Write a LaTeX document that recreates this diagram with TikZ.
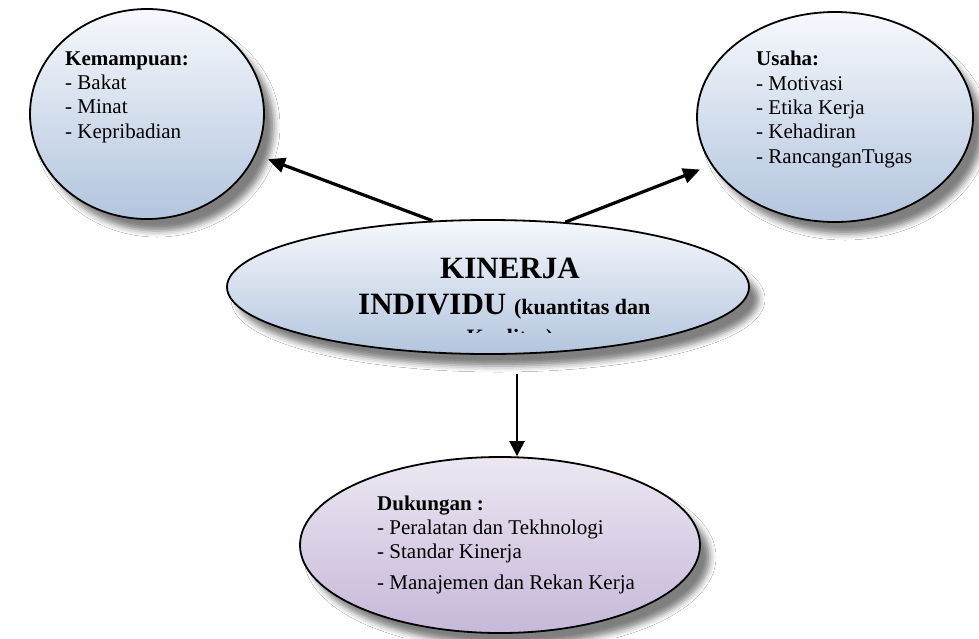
\documentclass[tikz,border=0pt]{standalone}
\usepackage{fontspec}
\setmainfont{Liberation Serif}
\usetikzlibrary{shapes.geometric,shadows,shadows.blur,arrows.meta}
\definecolor{bluetop}{HTML}{F6F8FC}
\definecolor{bluebot}{HTML}{B2C5DE}
\definecolor{purptop}{HTML}{ECE7F2}
\definecolor{purpbot}{HTML}{C6B8D9}
\begin{document}
\begin{tikzpicture}[x=1pt,y=-1pt,
  bubble/.style={ellipse, draw=black, line width=1.8pt, inner sep=0pt,
    top color=bluetop, bottom color=bluebot,
    blur shadow={shadow xshift=10pt, shadow yshift=-12pt, shadow blur radius=6pt, shadow opacity=50}},
  pbubble/.style={bubble, top color=purptop, bottom color=purpbot},
  txt/.style={anchor=base west, align=left, inner sep=0pt,
    font=\fontsize{21}{24.3}\selectfont},
  arr/.style={line width=3.2pt, -{Triangle[length=17pt,width=15pt]}},
  arrd/.style={line width=2.4pt, -{Triangle[length=15pt,width=15pt]}},
]
\fill[white] (0,0) rectangle (979,638);
\useasboundingbox (0,0) rectangle (979,638);

\node[bubble, minimum width=234pt, minimum height=210pt] (tl) at (147,114) {};
\node[bubble, minimum width=276pt, minimum height=210pt] (tr) at (835,117) {};
\node[bubble, minimum width=522pt, minimum height=134pt] (c) at (488,287) {};
\node[pbubble, minimum width=400pt, minimum height=176pt] (b) at (500,545) {};

% base anchor of a multi-line node lies on its last line
\node[txt] (tltext) at (65,138) {\textbf{Kemampuan:}\\- Bakat\\- Minat\\- Kepribadian};
\node[txt] (trtext) at (756,163) {\textbf{Usaha:}\\- Motivasi\\- Etika Kerja\\- Kehadiran\\- RancanganTugas};
\node[txt] (btext) at (377,589) {\textbf{Dukungan :}\\- Peralatan dan Tekhnologi\\- Standar Kinerja\\[6pt]- Manajemen dan Rekan Kerja};

\node[anchor=base, inner sep=0pt, font=\bfseries\fontsize{31}{36}\selectfont] (k1) at (510,278) {KINERJA};
\node[anchor=base west, inner sep=0pt, font=\bfseries\fontsize{31}{36}\selectfont] (k2) at (358,314) {INDIVIDU {\fontsize{22}{26}\selectfont (kuantitas dan}};
\begin{scope}
  \clip (300,300) rectangle (700,332);
  \node[anchor=base, inner sep=0pt, font=\bfseries\fontsize{22}{26}\selectfont] (k3) at (510,344) {Kualitas)};
\end{scope}

\draw[arr, shorten >=13pt] (c.130) -- (tl);
\draw[arr, shorten >=12pt] (c.40) -- (tr);
\coordinate (dtop) at (517,374);
\draw[arrd] (dtop) -- (dtop |- b.north);
\end{tikzpicture}
\end{document}
